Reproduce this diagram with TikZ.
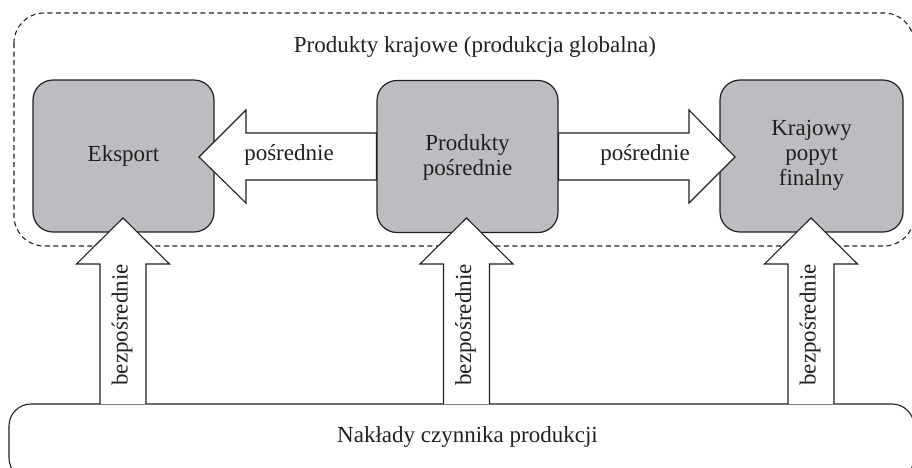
\documentclass[tikz,border=0pt]{standalone}
\usepackage{fontspec}
\setmainfont{Liberation Serif}
\definecolor{ink}{HTML}{231F20}
\definecolor{boxgray}{HTML}{BCBDC0}
\begin{document}
\begin{tikzpicture}[x=1pt,y=-1pt,
  lbl/.style={font=\fontsize{23}{25}\selectfont, text=ink, align=center, inner sep=0pt},
  gbox/.style={draw=ink, line width=1.2pt, fill=boxgray, rounded corners=20pt, minimum height=152pt, inner sep=0pt},
  barrow/.style={draw=ink, line width=1.1pt, fill=white, line join=miter},
  frame/.style={draw=ink, line width=1.1pt, rounded corners=#1}]
\useasboundingbox (0,0) rectangle (912,467);
% dashed region
\draw[frame=30pt, dash pattern=on 5pt off 3.5pt] (14,13) rectangle (914,246);
\node[lbl] (title) at (475,47) {Produkty krajowe (produkcja globalna)};
% boxes
\node[gbox, minimum width=181pt] (eks) at (123.5,156) {};
\node[lbl] at (eks.center) {Eksport};
\node[gbox, minimum width=181pt] (mid) at (467.5,156.5) {};
\node[lbl] at ([yshift=-0.5pt]mid.center) {Produkty\\pośrednie};
\node[gbox, minimum width=183pt] (fin) at (811.5,156) {};
\node[lbl] at ([yshift=1pt]fin.center) {Krajowy\\popyt\\finalny};
% bottom box
\draw[frame=22pt] (9,404) rectangle (914,480);
\coordinate (inputs) at (467.5,404);
\node[lbl] (nak) at (467.5,437) {Nakłady czynnika produkcji};
% horizontal arrows
\draw[barrow] (mid.west |- 0,133) -- (246,133) -- (246,110) -- (199,157)
  -- (246,203) -- (246,180) -- (mid.west |- 0,180) -- cycle;
\node[lbl] at (289,155) {pośrednie};
\draw[barrow] (mid.east |- 0,133) -- (689,133) -- (689,110) -- (735,157)
  -- (689,203) -- (689,180) -- (mid.east |- 0,180) -- cycle;
\node[lbl] at (645,155) {pośrednie};
% vertical arrows
\foreach \cx/\nm in {123/e, 466.5/m, 811/f}{
  \draw[barrow] (\cx-23,404) -- (\cx-23,264) -- (\cx-46.5,264) -- (\cx,218)
    -- (\cx+46.5,264) -- (\cx+23,264) -- (\cx+23,404);
  \node[lbl, rotate=90] (up\nm) at (\cx-1,325) {bezpośrednie};
}
\end{tikzpicture}
\end{document}
